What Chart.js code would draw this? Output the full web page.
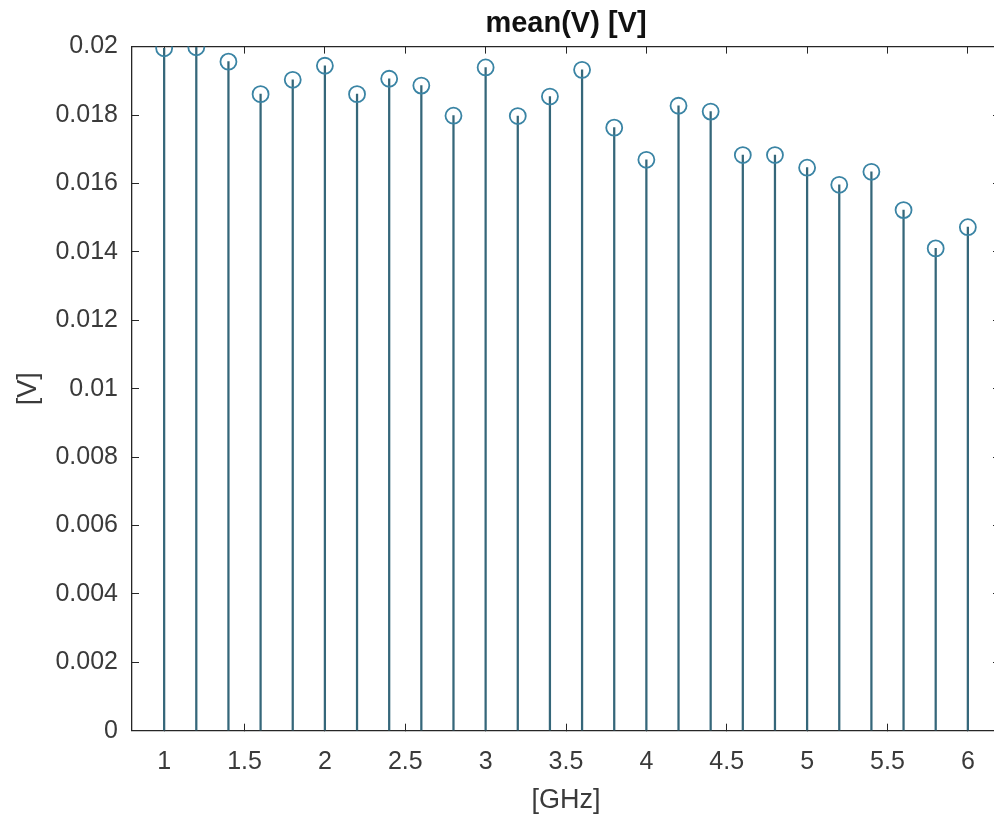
<!DOCTYPE html>
<html>
<head>
<meta charset="utf-8">
<script src="https://cdn.jsdelivr.net/npm/chart.js@4.4.1/dist/chart.umd.min.js"></script>
<style>
  html, body { margin: 0; padding: 0; background: #ffffff; overflow: hidden; }
  #wrap { position: relative; width: 1010px; height: 820px; }
</style>
</head>
<body>
<div id="wrap"><canvas id="c"></canvas></div>
<script>
// ---- data ----
const freqGHz = [1.0, 1.2, 1.4, 1.6, 1.8, 2.0, 2.2, 2.4, 2.6, 2.8, 3.0, 3.2, 3.4,
                 3.6, 3.8, 4.0, 4.2, 4.4, 4.6, 4.8, 5.0, 5.2, 5.4, 5.6, 5.8, 6.0];
const meanV = [0.01995, 0.01998, 0.01956, 0.01861, 0.01903, 0.01944, 0.01861, 0.01906,
               0.01886, 0.01798, 0.01939, 0.01797, 0.01854, 0.01932, 0.01763, 0.01669,
               0.01827, 0.01810, 0.01683, 0.01683, 0.01646, 0.01596, 0.01634, 0.01522,
               0.01410, 0.01472];
const xTickValues = [1, 1.5, 2, 2.5, 3, 3.5, 4, 4.5, 5, 5.5, 6];
const xTickLabels = ['1', '1.5', '2', '2.5', '3', '3.5', '4', '4.5', '5', '5.5', '6'];
const yTickValues = [0, 0.002, 0.004, 0.006, 0.008, 0.01, 0.012, 0.014, 0.016, 0.018, 0.02];
const yTickLabels = ['0', '0.002', '0.004', '0.006', '0.008', '0.01', '0.012', '0.014',
                     '0.016', '0.018', '0.02'];
const titleText = 'mean(V) [V]';
const xLabel = '[GHz]';
const yLabel = '[V]';

// ---- build ----
const points = freqGHz.map((f, i) => ({ x: f, y: meanV[i] }));
const axisColor = '#262626';
const textColor = '#3a3a3a';
const fam = '"Liberation Sans", Arial, Helvetica, sans-serif';

function setTicks(values) {
  return (scale) => { scale.ticks = values.map(v => ({ value: v })); };
}
function labelFrom(values, labels) {
  return (value) => {
    const i = values.findIndex(v => Math.abs(v - value) < 1e-9);
    return i >= 0 ? labels[i] : '';
  };
}

new Chart(document.getElementById('c'), {
  type: 'scatter',
  data: {
    datasets: [
      {
        type: 'bar',
        data: points,
        backgroundColor: '#35677a',
        borderWidth: 0,
        barThickness: 1.6,
        xAxisID: 'x',
        yAxisID: 'y',
        order: 2
      },
      {
        type: 'scatter',
        data: points,
        pointStyle: 'circle',
        pointRadius: 8,
        pointBorderWidth: 1.8,
        pointBorderColor: '#3a84a4',
        pointBackgroundColor: 'rgba(0,0,0,0)',
        showLine: false,
        xAxisID: 'x',
        yAxisID: 'y',
        order: 1
      }
    ]
  },
  options: {
    responsive: true,
    maintainAspectRatio: false,
    animation: false,
    events: [],
    layout: { padding: { left: 0, right: 10, top: 0, bottom: 0 } },
    plugins: {
      legend: { display: false },
      tooltip: { enabled: false },
      title: {
        display: true,
        fullSize: false,
        text: titleText,
        color: '#111111',
        font: { family: fam, size: 29, weight: 'bold', lineHeight: 1.2 },
        padding: { top: 7, bottom: 4.8 }
      }
    },
    scales: {
      x: {
        type: 'linear',
        position: 'bottom',
        min: 0.8,
        max: 6.2,
        offset: false,
        afterBuildTicks: setTicks(xTickValues),
        afterFit: (s) => { s.height = 89.3; },
        ticks: {
          callback: labelFrom(xTickValues, xTickLabels),
          color: textColor,
          font: { family: fam, size: 25 },
          padding: 23,
          maxRotation: 0,
          autoSkip: false
        },
        grid: {
          drawOnChartArea: false,
          drawTicks: true,
          tickLength: -7,
          tickColor: axisColor,
          tickWidth: 1,
          offset: false
        },
        border: { display: true, color: axisColor, width: 1.3 },
        title: {
          display: true,
          text: xLabel,
          color: textColor,
          font: { family: fam, size: 27, lineHeight: 1.2 },
          padding: { top: 0, bottom: 3 }
        }
      },
      x2: {
        type: 'linear',
        position: 'top',
        min: 0.8,
        max: 6.2,
        offset: false,
        afterBuildTicks: setTicks(xTickValues),
        afterFit: (s) => { s.height = 0; },
        ticks: { display: false },
        grid: {
          drawOnChartArea: false,
          drawTicks: true,
          tickLength: -7,
          tickColor: axisColor,
          tickWidth: 1,
          offset: false
        },
        border: { display: true, color: axisColor, width: 1.3 }
      },
      y: {
        type: 'linear',
        position: 'left',
        min: 0,
        max: 0.02,
        afterBuildTicks: setTicks(yTickValues),
        afterFit: (s) => { s.width = 132; },
        ticks: {
          callback: labelFrom(yTickValues, yTickLabels),
          color: textColor,
          font: { family: fam, size: 25 },
          padding: 21,
          autoSkip: false
        },
        grid: {
          drawOnChartArea: false,
          drawTicks: true,
          tickLength: -7,
          tickColor: axisColor,
          tickWidth: 1
        },
        border: { display: true, color: axisColor, width: 1.3 },
        title: {
          display: true,
          text: yLabel,
          color: textColor,
          font: { family: fam, size: 27, lineHeight: 1.2 },
          padding: { top: 12, bottom: 0 }
        }
      },
      y2: {
        type: 'linear',
        position: 'right',
        min: 0,
        max: 0.02,
        afterBuildTicks: setTicks(yTickValues),
        afterFit: (s) => { s.width = 0; },
        ticks: { display: false },
        grid: {
          drawOnChartArea: false,
          drawTicks: true,
          tickLength: -7,
          tickColor: axisColor,
          tickWidth: 1
        },
        border: { display: true, color: axisColor, width: 1.3 }
      }
    }
  }
});
</script>
</body>
</html>
